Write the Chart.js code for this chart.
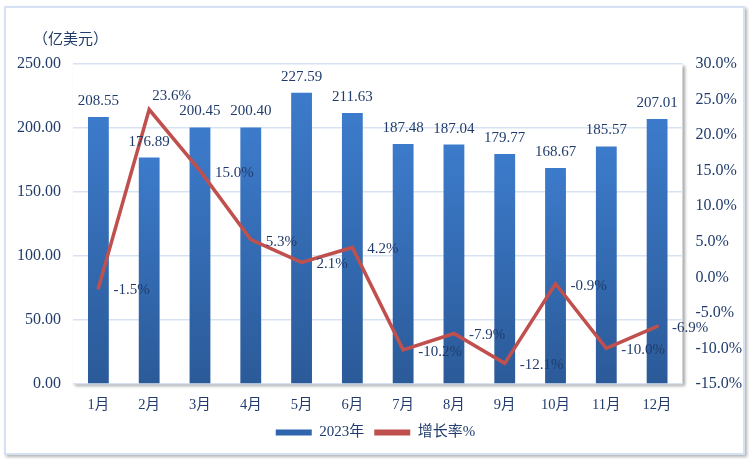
<!DOCTYPE html>
<html>
<head>
<meta charset="utf-8">
<script src="https://cdn.jsdelivr.net/npm/chart.js@4/dist/chart.umd.min.js"></script>
<style>
  html, body { margin: 0; padding: 0; background: #ffffff; }
  #wrap { position: relative; width: 751px; height: 459px; }
  canvas { display: block; }
</style>
</head>
<body>
<div id="wrap"><canvas id="c" width="751" height="459"></canvas></div>
<script>
const categories = ['1月','2月','3月','4月','5月','6月','7月','8月','9月','10月','11月','12月'];
const exportValues = [208.55, 176.89, 200.45, 200.40, 227.59, 211.63, 187.48, 187.04, 179.77, 168.67, 185.57, 207.01];
const growthRates = [-1.5, 23.6, 15.0, 5.3, 2.1, 4.2, -10.2, -7.9, -12.1, -0.9, -10.0, -6.9];
const leftTicks = [0, 50, 100, 150, 200, 250];
const rightTicks = [-15, -10, -5, 0, 5, 10, 15, 20, 25, 30];
const seriesNames = ['2023年', '增长率%'];
const unitLabel = '（亿美元）';

const TEXT = '#213c6c';
const SERIF = '"Liberation Serif", "Times New Roman", "Noto Sans CJK SC", serif';

const framePlugin = {
  id: 'frame',
  beforeDraw(chart) {
    const ctx = chart.ctx, a = chart.chartArea;
    ctx.save();
    ctx.shadowColor = 'rgba(0,0,0,0.3)';
    ctx.shadowBlur = 3; ctx.shadowOffsetX = 2; ctx.shadowOffsetY = 2;
    ctx.fillStyle = '#ffffff';
    ctx.fillRect(4, 6, 741, 449);
    ctx.shadowColor = 'transparent';
    ctx.strokeStyle = '#d6e2f4'; ctx.lineWidth = 2;
    ctx.strokeRect(5, 7, 739, 447);
    ctx.shadowColor = 'rgba(0,0,0,0.35)';
    ctx.shadowBlur = 3; ctx.shadowOffsetX = 2; ctx.shadowOffsetY = 2;
    ctx.fillStyle = '#ffffff';
    ctx.fillRect(a.left, a.top, a.right - a.left, a.bottom - a.top);
    ctx.restore();
    ctx.save();
    ctx.fillStyle = TEXT;
    ctx.font = '15px "Noto Sans CJK SC", sans-serif';
    ctx.textBaseline = 'middle';
    ctx.textAlign = 'left';
    ctx.fillText(unitLabel, a.left - 40, a.top - 26);
    ctx.restore();
  }
};

const labelPlugin = {
  id: 'valueLabels',
  afterDatasetsDraw(chart) {
    const ctx = chart.ctx;
    ctx.save();
    ctx.fillStyle = TEXT;
    ctx.font = '15px ' + SERIF;
    ctx.textBaseline = 'middle';
    const barMeta = chart.getDatasetMeta(0);
    ctx.textAlign = 'center';
    barMeta.data.forEach((el, i) => {
      ctx.fillText(exportValues[i].toFixed(2), el.x, el.y - 16);
    });
    const lineMeta = chart.getDatasetMeta(1);
    ctx.textAlign = 'left';
    lineMeta.data.forEach((el, i) => {
      const txt = growthRates[i].toFixed(1) + '%';
      if (i === 1) ctx.fillText(txt, el.x + 3, el.y - 13);
      else ctx.fillText(txt, el.x + 15, el.y + 2);
    });
    ctx.restore();
  }
};

function barGradient(context) {
  const chart = context.chart;
  const y = chart.scales && chart.scales.y;
  if (!chart.chartArea || !y || context.raw === undefined) return '#3470bb';
  const top = y.getPixelForValue(context.raw);
  const bottom = y.getPixelForValue(0);
  const g = chart.ctx.createLinearGradient(0, top, 0, bottom);
  g.addColorStop(0, '#3c7bcb');
  g.addColorStop(1, '#2b5a98');
  return g;
}

new Chart(document.getElementById('c'), {
  type: 'bar',
  data: {
    labels: categories,
    datasets: [
      {
        type: 'bar',
        label: seriesNames[0],
        data: exportValues,
        yAxisID: 'y',
        backgroundColor: barGradient,
        borderWidth: 0,
        barPercentage: 0.41,
        categoryPercentage: 1.0,
        order: 1
      },
      {
        type: 'line',
        label: seriesNames[1],
        data: growthRates,
        yAxisID: 'y1',
        borderColor: '#c0504d',
        backgroundColor: '#c0504d',
        borderWidth: 3.5,
        pointRadius: 0,
        tension: 0,
        borderCapStyle: 'round',
        borderJoinStyle: 'miter',
        order: 0
      }
    ]
  },
  options: {
    responsive: false,
    devicePixelRatio: 1,
    animation: false,
    layout: { padding: { top: 64, left: 0, right: 0, bottom: 9 } },
    plugins: {
      tooltip: { enabled: false },
      legend: {
        position: 'bottom',
        labels: {
          boxWidth: 36,
          boxHeight: 6,
          padding: 10,
          color: TEXT,
          font: { family: SERIF, size: 15 },
          sort: (a, b) => a.datasetIndex - b.datasetIndex,
          generateLabels(chart) {
            return chart.data.datasets.map((ds, i) => ({
              text: ds.label,
              fillStyle: i === 0 ? '#2f65ad' : '#c0504d',
              strokeStyle: 'transparent',
              lineWidth: 0,
              fontColor: TEXT,
              hidden: false,
              datasetIndex: i
            }));
          }
        }
      }
    },
    scales: {
      x: {
        grid: { display: false, drawTicks: false },
        border: { display: false },
        ticks: { color: TEXT, font: { family: SERIF, size: 14.5 }, padding: 12, maxRotation: 0 },
        afterFit(scale) { scale.height = 31; }
      },
      y: {
        position: 'left',
        min: 0, max: 250,
        afterBuildTicks(scale) { scale.ticks = leftTicks.map(v => ({ value: v })); },
        grid: { color: '#d7e3f3', lineWidth: 1.5, drawTicks: false },
        border: { display: false },
        ticks: { color: TEXT, font: { family: SERIF, size: 16 }, padding: 12, callback: v => Number(v).toFixed(2) },
        afterFit(scale) { scale.width = 73; }
      },
      y1: {
        position: 'right',
        min: -15, max: 30,
        afterBuildTicks(scale) { scale.ticks = rightTicks.map(v => ({ value: v })); },
        grid: { display: false, drawTicks: false },
        border: { display: false },
        ticks: { color: TEXT, font: { family: SERIF, size: 16 }, padding: 13, callback: v => Number(v).toFixed(1) + '%' },
        afterFit(scale) { scale.width = 68.5; }
      }
    }
  },
  plugins: [framePlugin, labelPlugin]
});
</script>
</body>
</html>
